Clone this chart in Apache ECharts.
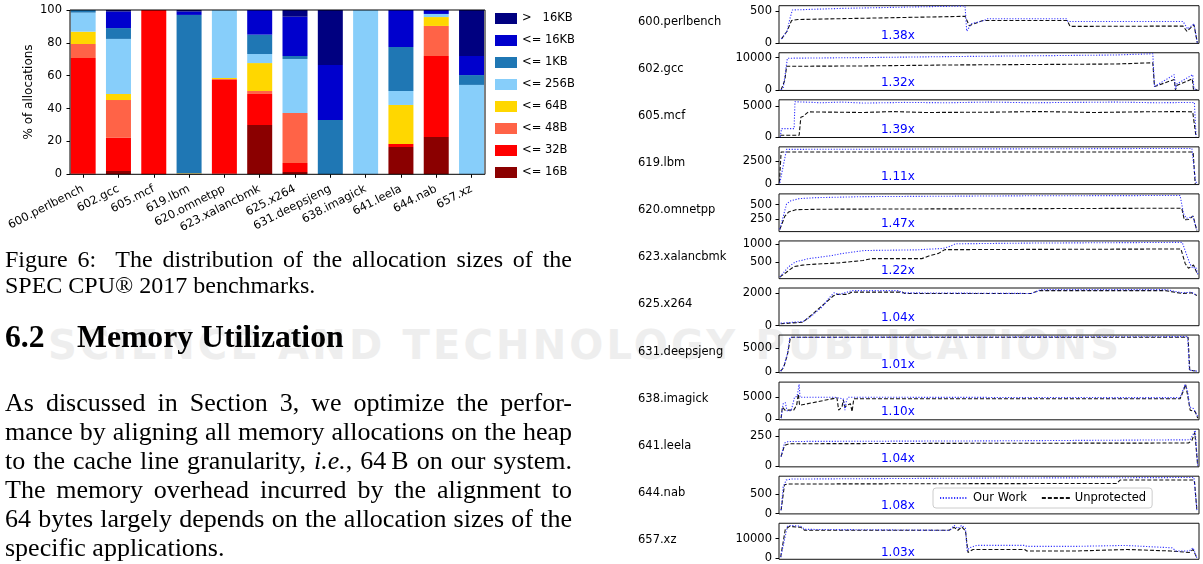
<!DOCTYPE html>
<html><head><meta charset="utf-8">
<script src="https://cdn.jsdelivr.net/npm/echarts@6/dist/echarts.min.js"></script>
<style>
html,body{margin:0;padding:0;background:#fff;width:1203px;height:564px;overflow:hidden}
#chart{position:absolute;left:0;top:0;width:1203px;height:564px;z-index:2}
#wm{position:absolute;left:48px;top:322px;z-index:1;font-family:'DejaVu Sans';font-weight:bold;font-size:40px;letter-spacing:3.2px;color:#eeeeee;white-space:nowrap;line-height:46px}
.t{position:absolute;left:5px;font-family:'Liberation Serif','Times New Roman',serif;color:#000;white-space:nowrap;z-index:3}
.cap{font-size:24px;line-height:26px}
.par{font-size:26px;line-height:29px}
.h{font-size:31.7px;font-weight:bold;line-height:38px}
</style></head><body>
<div id="wm">SCIENCE AND TECHNOLOGY PUBLICATIONS</div>
<div id="chart"></div>
<div class="t cap j" data-top="246">Figure 6:&nbsp; The distribution of the allocation sizes of the</div>
<div class="t cap" style="top:272px">SPEC CPU® 2017 benchmarks.</div>
<div class="t h" style="top:318px">6.2<span style="position:absolute;left:72px">Memory Utilization</span></div>
<div class="t par j" data-top="387.5">As discussed in Section 3, we optimize the perfor-</div>
<div class="t par j" data-top="416.5">mance by aligning all memory allocations on the heap</div>
<div class="t par j" data-top="445.5">to the cache line granularity, <i>i.e.</i>, 64&#8201;B on our system.</div>
<div class="t par j" data-top="474.5">The memory overhead incurred by the alignment to</div>
<div class="t par j" data-top="503.5">64 bytes largely depends on the allocation sizes of the</div>
<div class="t par" style="top:532.5px">specific applications.</div>
<script>
// ---------- Figure 6: allocation size distribution (% of allocations) ----------
const benchmarks = ['600.perlbench','602.gcc','605.mcf','619.lbm','620.omnetpp','623.xalancbmk','625.x264','631.deepsjeng','638.imagick','641.leela','644.nab','657.xz'];
const sizeNames = ['<= 16B','<= 32B','<= 48B','<= 64B','<= 256B','<= 1KB','<= 16KB','>   16KB'];
const le16B  = [0.3, 2.0, 0.2, 0.3, 0.3, 30.0, 1.4, 0, 0, 16.6, 22.7, 0];
const le32B  = [70.5, 20.3, 99.8, 0, 57.1, 18.9, 5.5, 0, 0, 1.9, 49.3, 0];
const le48B  = [8.5, 22.9, 0, 0, 0.6, 1.8, 30.4, 0, 0, 0, 18.3, 0];
const le64B  = [7.5, 3.7, 0, 0.3, 0.6, 17.0, 0, 0, 0, 23.7, 5.4, 0];
const le256B = [11.6, 33.5, 0, 0, 41.4, 5.5, 32.9, 0, 100, 8.5, 1.9, 54.4];
const le1KB  = [1.6, 6.6, 0, 96.4, 0, 11.8, 1.8, 33.1, 0, 26.8, 0, 6.0];
const le16KB = [0, 10.0, 0, 2.0, 0, 15.0, 23.9, 33.4, 0, 22.5, 2.4, 11.6];
const gt16KB = [0, 1.0, 0, 1.0, 0, 0, 4.1, 33.5, 0, 0, 0, 28.0];
const pctTicks = [0, 20, 40, 60, 80, 100];

// ---------- memory usage over run time (x: % of run, y: memory) ----------
const ratioLabels = ['1.38x','1.32x','1.39x','1.11x','1.47x','1.22x','1.04x','1.01x','1.10x','1.04x','1.08x','1.03x'];
const yTickVals = [[0,500],[0,10000],[0,5000],[0,2500],[250,500],[500,1000],[0,2000],[0,5000],[0,5000],[0,250],[0,500],[0,10000]];

const ow600 = [[0.6,62],[1.9,180],[2.6,380],[3.2,515],[15,540],[30,560],[44.3,577],[44.7,180],[45.8,299],[48.9,350],[49.5,376],[68.4,376],[68.8,334],[96.2,334],[97.3,216],[98.8,299],[99.6,0]];
const up600 = [[0.6,62],[1.9,180],[3.0,350],[4.5,365],[20,385],[44.3,415],[45.3,268],[48.5,350],[68.6,350],[69.3,257],[96.2,262],[97.1,180],[98.8,283],[99.6,0]];
const ow602 = [[0.5,0],[1.0,500],[2.0,9800],[20,10000],[40,10300],[80,10800],[89,11200],[89.4,1000],[94.1,4700],[94.4,300],[94.7,1800],[98.5,4700],[98.8,300],[99.6,0]];
const up602 = [[0.5,0],[1.4,3000],[1.8,7300],[20,7400],[40,7700],[80,8000],[89,8400],[89.4,1000],[94.1,3200],[94.4,0],[94.7,1300],[98.4,3400],[98.7,0],[99.6,0]];
const ow605 = [[0.3,0],[0.6,1350],[3.6,1350],[3.8,5760],[10,5600],[15,5700],[20,5550],[30,5650],[40,5600],[50,5700],[60,5600],[70,5650],[80,5700],[90,5600],[98.9,5650],[99.3,0]];
const up605 = [[0.3,270],[4.8,270],[5.2,3230],[5.8,3400],[7,4100],[20,4000],[27,4150],[35,4000],[50,4050],[62,4150],[75,4000],[85,4100],[95,4150],[98.5,4100],[99.3,0]];
const ow619 = [[0.2,135],[1.8,3720],[2.2,3820],[98.3,3820],[99.2,240],[99.7,0]];
const up619 = [[0.1,135],[0.5,3440],[98.6,3440],[99.1,0]];
const ow620 = [[0.2,67],[1.8,512],[2.8,567],[4.8,605],[8.8,622],[20,640],[60,655],[95.5,660],[96.3,345],[97,262],[98.5,290],[99.5,60]];
const up620 = [[0.2,67],[1.4,300],[2.3,372],[4,412],[10,420],[60,430],[95.9,438],[96.5,233],[97.5,240],[98.6,300],[99.5,40]];
const ow623 = [[0.2,76],[2.3,364],[3.9,500],[7,590],[12.7,680],[14.7,730],[20.3,820],[33,840],[39,880],[40.5,930],[42,1010],[60,1030],[96,1050],[97.8,456],[98.5,320],[99.2,355],[99.8,138]];
const up623 = [[0.2,76],[1.7,200],[3.5,364],[5.6,410],[8.7,437],[14.3,473],[20,540],[22,592],[34,592],[36,680],[38,740],[39.5,845],[95.7,864],[96.7,456],[97.5,320],[98.7,410],[99.7,138]];
const ow625 = [[0.4,155],[5.7,252],[7.5,544],[10.2,1126],[12,1709],[13.1,2000],[14.3,1903],[17.5,2136],[28.4,2136],[29.4,2000],[60.3,1961],[62.2,2194],[92.2,2194],[96,2000],[98.2,2040],[99.5,1845]];
const up625 = [[0.4,117],[5.7,214],[8.1,729],[12.9,1805],[13.7,1905],[16.1,1905],[17.3,2040],[29.4,2040],[30,1961],[60,1961],[62,2136],[92,2136],[96,1960],[98.2,2000],[99.5,1845]];
const ow631 = [[0.4,137],[1.1,1030],[2,3770],[2.6,7190],[3,7330],[97.3,7330],[97.7,340],[99.5,137]];
const up631 = [[0.4,137],[1.1,900],[2,3500],[2.7,7100],[3.2,7190],[97.4,7190],[97.8,300],[99.5,137]];
const ow638 = [[0.5,221],[1.0,3540],[1.5,3800],[1.9,1900],[2.9,1900],[3.7,5000],[4.3,5200],[4.8,7960],[5.0,5000],[13.3,5000],[15.3,4640],[15.7,2060],[16.1,4420],[16.5,5000],[95.5,4900],[96.7,7960],[97.3,6300],[97.8,2780],[98.7,2400],[99.7,580]];
const up638 = [[0.5,221],[0.8,2780],[1.4,2060],[3.5,2060],[4.2,3160],[4.6,5740],[4.9,3160],[13.8,4860],[14.2,2060],[15,2780],[15.3,4400],[15.7,2780],[16.2,3160],[17,3530],[17.4,1690],[17.8,4640],[95.5,4640],[96.3,6480],[96.8,7960],[97.3,5400],[97.9,2050],[99.1,1690],[99.7,220]];
const ow641 = [[0.5,81],[1.3,194],[2.2,207],[50,212],[97.9,221],[99.1,300],[99.7,0]];
const up641 = [[0.5,81],[1.3,175],[2.5,188],[50,192],[97.5,194],[98.3,215],[99,282],[99.7,0]];
const ow644 = [[0.5,85],[1.0,690],[1.7,873],[3,900],[50,925],[98.8,940],[99.5,85]];
const up644 = [[0.5,85],[1.3,750],[2,770],[50,780],[80.4,785],[81.2,873],[98.9,873],[99.5,85]];
const ow657 = [[0.4,476],[2,16300],[2.9,16800],[5.2,16300],[6.1,14750],[6.5,14280],[40.7,14280],[41.7,16800],[42.6,15200],[43.5,16800],[44.4,15200],[44.8,3620],[45.3,5240],[47.1,6480],[58.5,6480],[59,6000],[70.8,6000],[71,6480],[82.5,6480],[82.7,6000],[93.6,5240],[94.5,3620],[97.7,3620],[98.6,5240],[99.5,0]];
const up657 = [[0.4,476],[1.5,14750],[2.5,16300],[5.2,15800],[6.1,14280],[40.5,14280],[41.7,15800],[42.6,14280],[43.5,16000],[44.4,14000],[45,2860],[46.2,4380],[58.5,4380],[59,3620],[70.8,3620],[71,4380],[83,4380],[83.3,3620],[93.2,3620],[93.5,2860],[97.7,2860],[98.6,4380],[99.5,0]];

const ourWork = [ow600, ow602, ow605, ow619, ow620, ow623, ow625, ow631, ow638, ow641, ow644, ow657];
const unprotected = [up600, up602, up605, up619, up620, up623, up625, up631, up638, up641, up644, up657];

// ---------- justify text lines exactly to the column width ----------
(function(){
  const W = 567;
  document.querySelectorAll('.j').forEach(el => {
    if (el.dataset.top) el.style.top = el.dataset.top + 'px';
    const nat = el.getBoundingClientRect().width;
    const spaces = (el.textContent.match(/[ \u00a0]/g) || []).length;
    if (spaces > 0) el.style.wordSpacing = ((W - nat) / spaces) + 'px';
  });
})();

// ---------- styles / layout ----------
const FONT = 'DejaVu Sans';
const sizeColors = ['#8B0000','#FF0000','#FF6347','#FFD700','#87CEFA','#1F77B4','#0000CD','#000080'];
const sizeData = [le16B, le32B, le48B, le64B, le256B, le1KB, le16KB, gt16KB];
const yLimits = [[-10,582],[-200,11500],[-100,6080],[-50,3990],[28,688],[28,1090],[0,2294],[-205,7660],[-155,8460],[-5,310],[-10,974],[-660,17900]];
const SUB_LEFT = 779, SUB_W = 420, SUB_TOP0 = 5.7, SUB_STEP = 47.05, SUB_H = 37.7;

const grids = [{left:65.5, top:10, width:423.7, height:164.3}];
const xAxes = [{
  type:'category', gridIndex:0, data:benchmarks,
  axisLine:{show:false},
  axisTick:{show:true, alignWithLabel:true, length:3.5, lineStyle:{color:'#000'}},
  axisLabel:{interval:0, rotate:27, margin:14, fontSize:11.5, fontFamily:FONT, color:'#000'}
}];
const yAxes = [{
  type:'value', gridIndex:0, min:0, max:100, interval:20, offset:-4.5,
  axisLine:{show:false}, splitLine:{show:false},
  axisTick:{show:true, length:3.5, lineStyle:{color:'#000'}},
  axisLabel:{margin:8, fontSize:11.5, fontFamily:FONT, color:'#000', customValues:pctTicks}
}];
const series = [];
sizeNames.forEach((n, k) => {
  series.push({type:'bar', name:n, stack:'alloc', xAxisIndex:0, yAxisIndex:0, barWidth:25,
    data:sizeData[k], itemStyle:{color:sizeColors[k]}});
});
const graphics = [
  {type:'rect', shape:{x:70, y:10, width:415, height:164.3}, style:{fill:'none', stroke:'#000', lineWidth:1}, z:100},
  {type:'text', x:28.5, y:92, rotation:Math.PI/2, style:{text:'% of allocations', font:'12px "DejaVu Sans"', fill:'#000', align:'center', verticalAlign:'middle'}, z:100}
];

benchmarks.forEach((b, i) => {
  const gi = i + 1;
  const top = SUB_TOP0 + SUB_STEP * i;
  grids.push({left:SUB_LEFT, top:top, width:SUB_W, height:SUB_H, show:true, borderColor:'#111', borderWidth:1, backgroundColor:'transparent'});
  xAxes.push({type:'value', gridIndex:gi, min:0, max:100, show:false});
  yAxes.push({type:'value', gridIndex:gi, min:yLimits[i][0], max:yLimits[i][1],
    axisLine:{show:false}, splitLine:{show:false},
    axisTick:{show:true, length:3.5, customValues:yTickVals[i], lineStyle:{color:'#000'}},
    axisLabel:{customValues:yTickVals[i], margin:7, fontSize:11.5, fontFamily:FONT, color:'#000', formatter:v => String(v)}});
  series.push({type:'line', name:'Our Work', xAxisIndex:gi, yAxisIndex:gi, data:ourWork[i],
    symbol:'none', showSymbol:false, lineStyle:{color:'#3535ff', width:1.1, type:[1.2,1.6]}, itemStyle:{color:'#3535ff'}, z:3});
  series.push({type:'line', name:'Unprotected', xAxisIndex:gi, yAxisIndex:gi, data:unprotected[i],
    symbol:'none', showSymbol:false, lineStyle:{color:'#111', width:1.1, type:[4,2]}, itemStyle:{color:'#111'}, z:2});
  graphics.push({type:'text', x:638, y:top + 16.5, style:{text:b, font:'11.5px "DejaVu Sans"', fill:'#000', align:'left', verticalAlign:'middle'}, z:100});
  graphics.push({type:'text', x:SUB_LEFT + 0.283 * SUB_W, y:top + SUB_H - 8, style:{text:ratioLabels[i], font:'12px "DejaVu Sans"', fill:'#0000ff', align:'center', verticalAlign:'middle'}, z:100});
});

const chart = echarts.init(document.getElementById('chart'), null, {renderer:'canvas'});
chart.setOption({
  animation:false,
  backgroundColor:'transparent',
  textStyle:{fontFamily:FONT},
  grid:grids, xAxis:xAxes, yAxis:yAxes, series:series, graphic:graphics,
  legend:[
    {data:sizeNames.slice().reverse(), orient:'vertical', left:495, top:12.5, padding:0,
     itemWidth:22, itemHeight:11, itemGap:10, icon:'rect', selectedMode:false,
     textStyle:{fontSize:11.5, fontFamily:FONT, color:'#000', lineHeight:11}},
    {data:['Our Work','Unprotected'], orient:'horizontal', left:933, top:488, padding:[4,6],
     itemWidth:28, itemHeight:10, itemGap:14, selectedMode:false,
     itemStyle:{opacity:0},
     borderColor:'#ccc', borderWidth:1, borderRadius:3, backgroundColor:'#fff',
     textStyle:{fontSize:11.5, fontFamily:FONT, color:'#000'}, z:10}
  ]
});
</script>
</body></html>
